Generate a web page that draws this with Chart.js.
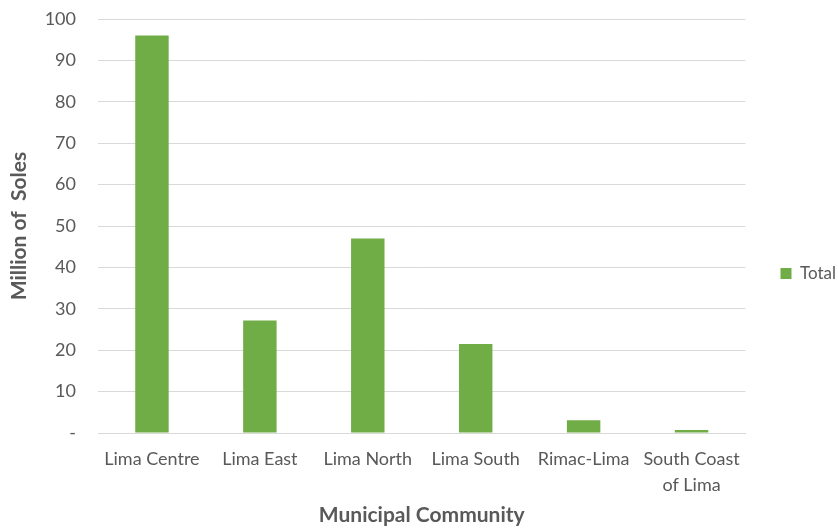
<!DOCTYPE html>
<html><head><meta charset="utf-8">
<script src="https://cdn.jsdelivr.net/npm/chart.js@4"></script>
<style>html,body{margin:0;padding:0;background:#fff}#wrap{width:838px;height:528px;position:relative}</style>
</head><body><div id="wrap"><canvas id="c"></canvas></div>
<script>
const categories = ["Lima Centre", "Lima East", "Lima North", "Lima South", "Rimac-Lima", ["South Coast", "of Lima"]];
const totalValues = [96, 27.2, 47, 21.5, 3.1, 0.7];
const seriesName = "Total";
const yAxisTitle = "Million of  Soles";
const xAxisTitle = "Municipal Community";
const yMin = 0, yMax = 100, yStep = 10;

const FONT = "Lato";
const TXT = "#595959";
new Chart(document.getElementById('c'), {
  type: 'bar',
  data: { labels: categories, datasets: [{ label: seriesName, data: totalValues, backgroundColor: '#70AD47', borderWidth: 0, barPercentage: 0.62, categoryPercentage: 0.5 }] },
  options: {
    responsive: true, maintainAspectRatio: false, animation: false,
    layout: { padding: { top: 19, right: -8, bottom: 0, left: 0 } },
    plugins: {
      legend: { position: 'right', labels: { boxWidth: 11, boxHeight: 11, padding: 35, color: TXT, font: { family: FONT, size: 17 } } },
      tooltip: { enabled: false }
    },
    scales: {
      x: {
        grid: { display: false, drawTicks: false },
        border: { color: '#d9d9d9', width: 1 },
        ticks: { color: TXT, font: { family: FONT, size: 18, lineHeight: 1.4 }, padding: 14, maxRotation: 0, autoSkip: false },
        title: { display: true, text: xAxisTitle, color: TXT, font: { family: FONT, size: 21, weight: 'bold' }, padding: { top: 0, bottom: 0 } },
        afterFit: s => { s.height = 95; s.paddingLeft = 0; s.paddingRight = 0; }
      },
      y: {
        min: yMin, max: yMax,
        grid: { color: '#d9d9d9', lineWidth: 1, drawTicks: false },
        border: { display: false },
        ticks: { stepSize: yStep, color: TXT, font: { family: FONT, size: 18 }, padding: 22, callback: v => v === 0 ? '-' : v },
        title: { display: true, text: yAxisTitle, color: TXT, font: { family: FONT, size: 21, weight: 'bold' }, padding: { top: 7, bottom: 0 } },
        afterFit: s => { s.width = 98; s.paddingTop = 0; s.paddingBottom = 0; }
      }
    }
  }
});
</script></body></html>
